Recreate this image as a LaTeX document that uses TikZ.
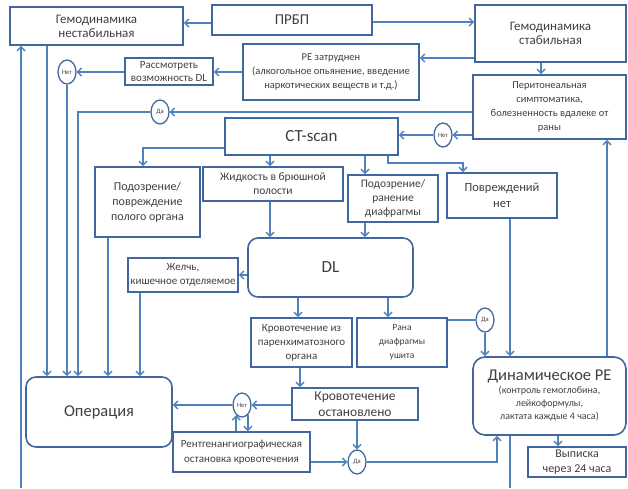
\documentclass[tikz,border=0pt]{standalone}
\usepackage{fontspec}
\setmainfont{Carlito}
\usetikzlibrary{arrows.meta,shapes.geometric}
\definecolor{FlowBlue}{HTML}{4F81BD}
\definecolor{FrameBlue}{HTML}{41679E}
\definecolor{FlowText}{HTML}{3F3F3F}
\newcommand{\fsz}[2]{\fontsize{#1}{#2}\selectfont}

\begin{document}
\begin{tikzpicture}[x=1pt,y=-1pt,
  box/.style={draw=FrameBlue,line width=1.6pt,align=center,text=FlowText,inner sep=1pt},
  rbox/.style={box,rounded corners=10pt},
  tag/.style={ellipse,draw=FrameBlue,line width=1.3pt,text=FlowText,inner sep=0pt,minimum width=18pt,minimum height=24pt,font=\fsz{6.5}{7}},
  arr/.style={draw=FlowBlue,line width=1.4pt,-{Straight Barb[length=4pt,width=8pt]}},
  ln/.style={draw=FlowBlue,line width=1.4pt}]
  \useasboundingbox (0,0) rectangle (628,488);
  \node[box,minimum width=173pt,minimum height=38pt,font=\fsz{13}{14}] (unst) at (96.5,26) {Гемодинамика\\нестабильная};
  \node[box,minimum width=160pt,minimum height=30pt,font=\fsz{15}{17}] (prbp) at (292,20) {ПРБП};
  \node[box,minimum width=151pt,minimum height=57pt,font=\fsz{13}{14}] (stab) at (550.5,33.5) {Гемодинамика\\стабильная};
  \node[box,minimum width=176pt,minimum height=56pt,font=\fsz{10.5}{14}] (pe) at (331,72) {PE затруднен\\(алкогольное опьянение, введение\\наркотических веществ и т.д.)};
  \node[box,minimum width=88pt,minimum height=27pt,font=\fsz{11}{13}] (cons) at (169,71.5) {Рассмотреть\\возможность DL};
  \node[box,minimum width=153pt,minimum height=64pt,font=\fsz{10.5}{14}] (peri) at (549.5,107) {Перитонеальная\\симптоматика,\\болезненность вдалеке от\\раны};
  \node[box,minimum width=173pt,minimum height=37pt,font=\fsz{17}{19}] (ct) at (311.5,136.5) {CT-scan};
  \node[box,minimum width=105pt,minimum height=70pt,font=\fsz{12}{15}] (hollow) at (147.5,202) {Подозрение/\\повреждение\\полого органа};
  \node[box,minimum width=140pt,minimum height=34pt,font=\fsz{11.5}{14}] (fluid) at (273,184) {Жидкость в брюшной\\полости};
  \node[box,minimum width=90pt,minimum height=47pt,font=\fsz{11.5}{14}] (diaph) at (393,198.5) {Подозрение/\\ранение\\диафрагмы};
  \node[box,minimum width=110pt,minimum height=45pt,font=\fsz{12.5}{16}] (none) at (502,195.5) {Повреждений\\нет};
  \node[rbox,minimum width=165pt,minimum height=59pt,font=\fsz{17}{19}] (dl) at (330.5,267.5) {DL};
  \node[box,minimum width=110pt,minimum height=34pt,font=\fsz{11}{14}] (bile) at (183,275) {Желчь,\\кишечное отделяемое};
  \node[box,minimum width=101pt,minimum height=49pt,font=\fsz{11}{14}] (paren) at (301.5,342.5) {Кровотечение из\\паренхиматозного\\органа};
  \node[box,minimum width=90pt,minimum height=49pt,font=\fsz{9.5}{14}] (sutur) at (402,342.5) {Рана\\диафрагмы\\ушита};
  \node[box,minimum width=126pt,minimum height=32pt,font=\fsz{13.5}{16}] (stop) at (355,404) {Кровотечение\\остановлено};
  \node[rbox,minimum width=146pt,minimum height=70pt,font=\fsz{16.5}{19}] (op) at (99,412) {Операция};
  \node[box,minimum width=137pt,minimum height=40pt,font=\fsz{11}{15}] (xray) at (241.5,452) {Рентгенангиографическая\\остановка кровотечения};
  \node[rbox,rounded corners=12pt,minimum width=153pt,minimum height=78pt,font=\fsz{10}{13}] (dyn) at (549.5,396) {{\fsz{16.5}{20}Динамическое PE}\\(контроль гемоглобина,\\лейкоформулы,\\лактата каждые 4 часа)};
  \node[box,minimum width=98pt,minimum height=30pt,font=\fsz{12}{15}] (disch) at (577,462) {Выписка\\через 24 часа};
  \node[tag] (no1) at (67,72) {Нет};
  \node[tag] (yes1) at (160,112) {Да};
  \node[tag] (no2) at (443,135) {Нет};
  \node[tag] (yes2) at (485,320) {Да};
  \node[tag] (no3) at (242,405) {Нет};
  \node[tag] (yes3) at (357,462) {Да};
  \coordinate (bl) at (21,488);
  \coordinate (br) at (510,488);
  \draw[arr] (prbp.west |- 0,23) -- (unst.east |- 0,23);
  \draw[arr] (prbp.east |- 0,22) -- (stab.west |- 0,22);
  \draw[arr] (stab.west |- 0,58) -- (pe.east |- 0,58);
  \draw[arr] (pe.west |- 0,72) -- (cons.east |- 0,72);
  \draw[arr] (cons.west |- no1) -- (no1.east);
  \draw[arr] (no1.south) -- (no1.south |- op.north);
  \draw[arr] (unst.south -| 47,0) -- (op.north -| 47,0);
  \draw[arr] (bl) -- (unst.south -| bl);
  \draw[arr] (peri.west |- yes1) -- (yes1.east);
  \draw[arr] (yes1.west) -| (op.north -| 78,0);
  \draw[arr] (stab.south -| 541,0) -- (peri.north -| 541,0);
  \draw[arr] (peri.west |- no2) -- (no2.east);
  \draw[arr] (no2.west) -- (ct.east |- no2);
  \draw[arr] (ct.west |- 0,148) -| (hollow.north -| 143,0);
  \draw[arr] (ct.south -| 270,0) -- (fluid.north -| 270,0);
  \draw[arr] (ct.south -| 365,0) -- (diaph.north -| 365,0);
  \draw[arr] (ct.south -| 388,0) |- (463,163) -- (none.north -| 463,0);
  \draw[arr] (hollow.south -| 108,0) -- (op.north -| 108,0);
  \draw[arr] (fluid.south -| 270,0) -- (dl.north -| 270,0);
  \draw[arr] (diaph.south -| 365,0) -- (dl.north -| 365,0);
  \draw[arr] (dl.west |- bile) -- (bile.east);
  \draw[arr] (bile.south -| 140,0) -- (op.north -| 140,0);
  \draw[arr] (dl.south -| 298,0) -- (paren.north -| 298,0);
  \draw[arr] (dl.south -| 388,0) -- (sutur.north -| 388,0);
  \draw[ln] (sutur.east |- yes2) -- (yes2.west);
  \draw[arr] (yes2.south) -- (dyn.north -| yes2);
  \draw[arr] (none.south -| 510,0) -- (dyn.north -| 510,0);
  \draw[arr] (dyn.north -| 607,0) -- (peri.south -| 607,0);
  \draw[arr] (paren.south -| 300,0) -- (stop.north -| 300,0);
  \draw[arr] (stop.west |- no3) -- (no3.east);
  \draw[arr] (no3.west) -- (op.east |- no3);
  \draw[arr] (no3.-60) -- (no3.-60 |- xray.north);
  \draw[arr] (xray.north -| no3.-120) -- (no3.-120);
  \draw[arr] (xray.east |- yes3) -- (yes3.west);
  \draw[arr] (stop.south -| yes3) -- (yes3.north);
  \draw[arr] (yes3.east) -| (dyn.south -| 497,0);
  \draw[arr] (dyn.south -| 558,0) -- (disch.north -| 558,0);
  \draw[ln] (dyn.south -| br) -- (br);
\end{tikzpicture}
\end{document}
